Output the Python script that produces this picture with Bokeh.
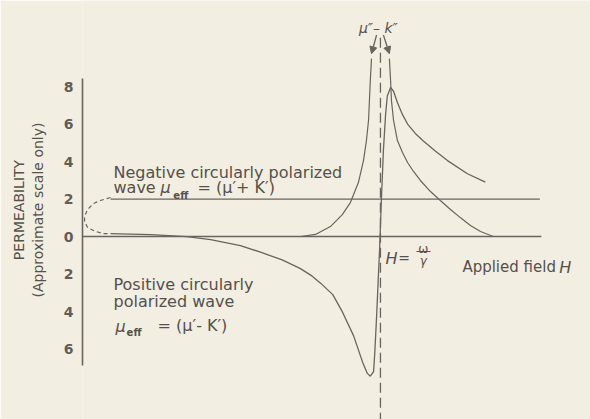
from bokeh.plotting import figure
from bokeh.models import Range1d, FixedTicker, Arrow, NormalHead
from bokeh.core.properties import value
from bokeh.embed import file_html
from bokeh.resources import INLINE

# ---- data (applied field H in arbitrary units, permeability in approximate units) ----
tick_values = [-6, -4, -2, 0, 2, 4, 6, 8]
tick_labels = ["6", "4", "2", "0", "2", "4", "6", "8"]

resonance_h = 10.0          # H = omega / gamma
negative_level = 2.0        # mu' + K' for the negative circularly polarized wave
field_start = 0.94
field_end = 15.4

# positive circularly polarized wave, mu_eff = mu' - K'
pos_h = [0.94, 2.3, 3.5, 4.3, 5.3, 6.0, 6.7, 7.3, 7.7, 8.0, 8.4, 8.7, 9.1, 9.4,
         9.56, 9.66, 9.77, 9.81, 9.87, 9.92, 9.97, 10.03, 10.1, 10.17, 10.23,
         10.34, 10.44, 10.57, 10.74, 10.91, 11.17, 11.44, 11.85, 12.25, 12.92, 13.52]
pos_mu = [0.16, 0.1, 0.0, -0.16, -0.48, -0.85, -1.25, -1.7, -2.1, -2.5, -3.1, -3.95, -5.3, -6.7,
          -7.3, -7.45, -7.2, -6.2, -4.3, -2.5, -0.75, 1.9, 4.6, 6.45, 7.5,
          7.95, 7.75, 7.15, 6.5, 6.0, 5.5, 5.1, 4.55, 4.05, 3.35, 2.9]

# loss term mu'' - K'' (two branches, peak runs off the top)
loss_left_h = [7.32, 7.82, 8.32, 8.72, 8.99, 9.26, 9.43, 9.53, 9.60, 9.63, 9.66, 9.70]
loss_left_mu = [0.0, 0.11, 0.53, 1.17, 1.81, 2.88, 4.05, 5.12, 6.19, 7.25, 8.32, 9.49]
loss_right_h = [10.30, 10.34, 10.37, 10.44, 10.57, 10.74, 10.91, 11.11, 11.34, 11.68,
                12.01, 12.35, 12.68, 13.02, 13.36, 13.79]
loss_right_mu = [9.49, 8.32, 7.25, 6.19, 5.12, 4.48, 3.95, 3.47, 2.99, 2.40,
                 1.92, 1.44, 1.01, 0.59, 0.27, 0.0]

# low-field (unsaturated) region joining the two waves
low_h = [0.94, 0.60, 0.37, 0.17, 0.07, 0.07, 0.17, 0.44, 0.70, 0.94]
low_mu = [2.08, 1.92, 1.76, 1.44, 1.07, 0.80, 0.48, 0.27, 0.16, 0.16]

# ---- styling ----
BG = "#f2eee2"
INK = "#6b645e"
TXT = "#55514c"
FONT = value("DejaVu Sans")

p = figure(width=590, height=419,
           x_range=Range1d(0, 17.05), y_range=Range1d(-9.76, 12.59),
           output_backend="svg", toolbar_location=None,
           x_axis_location=None, y_axis_location="left",
           min_border_left=82, min_border_right=0, min_border_top=0, min_border_bottom=0,
           background_fill_color=BG, border_fill_color=BG)
p.grid.visible = False
p.outline_line_color = None

ax = p.yaxis[0]
ax.ticker = FixedTicker(ticks=tick_values)
ax.major_label_overrides = {v: s for v, s in zip(tick_values, tick_labels)}
ax.bounds = (-6.9, 8.45)
ax.axis_line_color = INK
ax.axis_line_width = 1.6
ax.major_tick_line_color = None
ax.minor_tick_line_color = None
ax.major_tick_out = 0
ax.minor_tick_out = 0
ax.major_label_standoff = 9
ax.major_label_text_font = "DejaVu Sans"
ax.major_label_text_font_size = "14px"
ax.major_label_text_font_style = "bold"
ax.major_label_text_color = "#615c56"
ax.axis_label = "PERMEABILITY\n(Approximate scale only)"
ax.axis_label_standoff = 15
ax.axis_label_text_font = "DejaVu Sans"
ax.axis_label_text_font_size = "14px"
ax.axis_label_text_font_style = "normal"
ax.axis_label_text_color = TXT

# zero line (applied field axis)
p.line([0, field_end], [0, 0], line_color=INK, line_width=1.4)
# negative circularly polarized wave
p.line([field_start, field_end - 0.05], [negative_level, negative_level], line_color=INK, line_width=1.3)
# low-field dashed region
p.line(low_h, low_mu, line_color=INK, line_width=1.2, line_dash="4 3")
# positive circularly polarized wave
p.line(pos_h, pos_mu, line_color=INK, line_width=1.3)
# loss curves
p.line(loss_left_h, loss_left_mu, line_color=INK, line_width=1.2)
p.line(loss_right_h, loss_right_mu, line_color=INK, line_width=1.2)
# resonance marker
p.line([resonance_h, resonance_h], [10.6, -10.0], line_color=INK, line_width=1.3, line_dash="10 5")

# arrows from the loss label to the curves
for xs, xe in [(9.87, loss_left_h[-1]), (10.10, loss_right_h[0])]:
    p.add_layout(Arrow(end=NormalHead(size=7, fill_color=INK, line_color=INK),
                       x_start=xs, y_start=10.75, x_end=xe, y_end=9.75,
                       line_color=INK, line_width=1.3))

def txt(x, y, s, size="16px", style="normal", align="left", baseline="alphabetic"):
    p.text(x=[x], y=[y], text=[s], text_font=FONT, text_font_size=size,
           text_font_style=style, text_color=TXT, text_align=align, text_baseline=baseline)

txt(9.93, 11.12, "μ″– k″", size="14px", style="italic", align="center")

txt(1.04, 3.41, "Negative circularly polarized")
txt(1.04, 2.61, "wave")
txt(2.62, 2.61, "μ", style="italic")
txt(3.05, 2.19, "eff", size="10px", style="bold")
txt(3.86, 2.61, "= (μ′+ K′)")

txt(1.04, -2.56, "Positive circularly")
txt(1.04, -3.47, "polarized wave")
txt(1.11, -4.80, "μ", style="italic")
txt(1.48, -5.12, "eff", size="10px", style="bold")
txt(2.52, -4.75, "=  (μ′- K′)")

txt(10.17, -1.17, "H", style="italic")
txt(10.60, -1.17, "=", size="14px")
txt(11.44, -0.69, "ω", size="12px", align="center")
p.line([11.21, 11.68], [-0.8, -0.8], line_color=TXT, line_width=1)
txt(11.44, -1.33, "γ", size="12px", style="italic", align="center")

txt(12.75, -1.65, "Applied field", size="15px")
txt(16.0, -1.65, "H", style="italic")

open("out.html", "w").write(file_html(p, INLINE))
